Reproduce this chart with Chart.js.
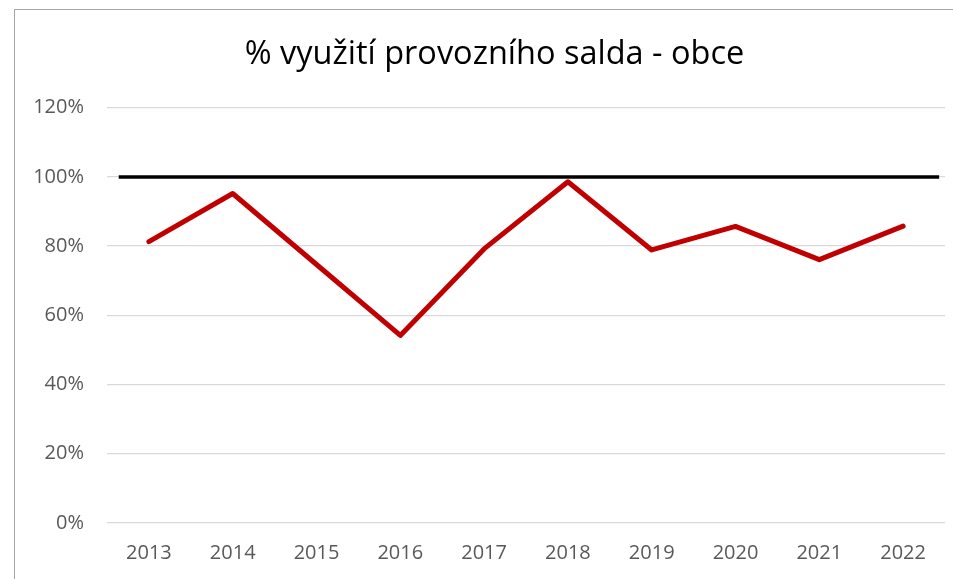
<!DOCTYPE html>
<html lang="cs">
<head>
  <meta charset="UTF-8" />
  <title>% využití provozního salda - obce</title>
  <script src="https://cdn.jsdelivr.net/npm/chart.js"></script>
  <style>
    html, body {
      margin: 0;
      padding: 0;
      background: #fff;
      overflow: hidden;
    }
    .frame {
      position: absolute;
      left: 14px;
      top: 9px;
      right: 0;
      bottom: 0;
      border-left: 1px solid #a6a6a6;
      border-top: 1px solid #a6a6a6;
    }
    .wrap {
      position: absolute;
      left: 0;
      top: 0;
      width: 989px;
      height: 579px;
    }
  </style>
</head>
<body>
  <div class="frame"></div>
  <div class="wrap">
    <!-- the Excel chart is cropped on the right, so the canvas runs past the window -->
    <canvas id="chart" width="989" height="579"></canvas>
  </div>

  <script>
    const years = ['2013', '2014', '2015', '2016', '2017', '2018', '2019', '2020', '2021', '2022'];
    const usage = [81.3, 95.2, 74.7, 54.2, 79.2, 98.6, 78.9, 85.7, 76.1, 85.8];
    // 100 % reference line, x in category-index units
    const limitLine = [{ x: -0.36, y: 100 }, { x: 9.43, y: 100 }];
    const yTicks = [0, 20, 40, 60, 80, 100, 120];

    const font = "'Open Sans', 'Noto Sans', sans-serif";

    const ctx = document.getElementById('chart').getContext('2d');

    new Chart(ctx, {
      type: 'line',
      data: {
        labels: years,
        datasets: [
          {
            label: 'limit',
            data: limitLine,
            xAxisID: 'x2',
            borderColor: '#000000',
            borderWidth: 3.5,
            borderCapStyle: 'butt',
            pointRadius: 0,
            fill: false
          },
          {
            label: '% využití provozního salda',
            data: usage,
            xAxisID: 'x',
            borderColor: '#c00000',
            borderWidth: 5,
            borderCapStyle: 'round',
            borderJoinStyle: 'round',
            pointRadius: 0,
            fill: false,
            tension: 0
          }
        ]
      },
      options: {
        responsive: false,
        animation: false,
        layout: {
          padding: 0
        },
        plugins: {
          legend: { display: false },
          tooltip: { enabled: false },
          title: {
            display: true,
            text: '% využití provozního salda - obce',
            color: '#000000',
            font: { family: font, size: 32.5, weight: 'normal', lineHeight: 1.2 },
            padding: { top: 35.5, bottom: 33.2 }
          }
        },
        scales: {
          x: {
            type: 'category',
            offset: true,
            grid: { display: false, drawTicks: false },
            border: { display: false },
            ticks: {
              color: '#595959',
              font: { family: font, size: 20 },
              padding: 18,
              maxRotation: 0
            },
            afterFit: scale => { scale.height = 56; }
          },
          x2: {
            type: 'linear',
            display: false,
            min: -0.5,
            max: 9.5
          },
          y: {
            min: 0,
            max: 120,
            afterBuildTicks: scale => {
              scale.ticks = yTicks.map(v => ({ value: v }));
            },
            grid: { color: '#d9d9d9', lineWidth: 1.3, drawTicks: false },
            border: { display: false },
            ticks: {
              color: '#595959',
              font: { family: font, size: 20 },
              padding: 23,
              callback: v => v + '%'
            },
            afterFit: scale => { scale.width = 107; }
          },
          // empty right-hand space of the chart object
          yRight: {
            position: 'right',
            min: 0,
            max: 120,
            grid: { display: false, drawTicks: false },
            border: { display: false },
            ticks: { display: false },
            afterFit: scale => { scale.width = 44; }
          }
        }
      }
    });
  </script>
</body>
</html>
